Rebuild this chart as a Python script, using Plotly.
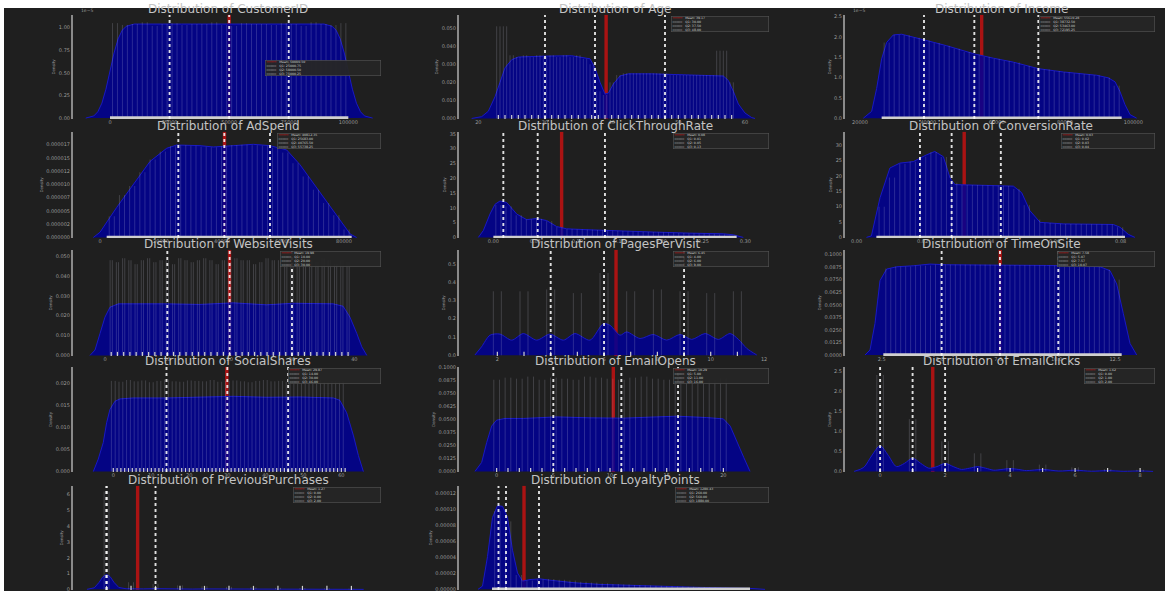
import plotly.graph_objects as go

W, H = 1165, 593

# ===================== DATA =====================
TITLES = ["CustomerID", "Age", "Income", "AdSpend", "ClickThroughRate", "ConversionRate",
          "WebsiteVisits", "PagesPerVisit", "TimeOnSite", "SocialShares", "EmailOpens",
          "EmailClicks", "PreviousPurchases", "LoyaltyPoints"]

# ---- CustomerID ----
CID_KDE_X = [-10200, -6800, -5100, -3400, -1700, 0, 1700, 3400, 5100, 6800, 10200, 30000, 50000, 70000,
             89800, 93200, 94900, 96600, 98300, 100000, 101700, 103400, 105100, 106800, 110200]
CID_KDE_Y = [0.0, 2.4e-7, 7.0e-7, 1.65e-6, 3.2e-6, 5.2e-6, 7.2e-6, 8.75e-6, 9.7e-6, 1.015e-5, 1.04e-5,
             1.04e-5, 1.039e-5, 1.041e-5, 1.04e-5, 1.015e-5, 9.7e-6, 8.75e-6, 7.2e-6, 5.2e-6, 3.2e-6,
             1.65e-6, 7.0e-7, 2.4e-7, 0.0]
CID_HIST_START, CID_HIST_STEP = 2083, 4167
CID_HIST_Y = [1.05e-5, 1.03e-5, 1.04e-5, 1.06e-5, 1.02e-5, 1.04e-5, 1.05e-5, 1.03e-5, 1.04e-5, 1.04e-5,
              1.06e-5, 1.03e-5, 1.02e-5, 1.05e-5, 1.04e-5, 1.04e-5, 1.03e-5, 1.05e-5, 1.04e-5, 1.02e-5,
              1.06e-5, 1.04e-5, 1.03e-5, 1.05e-5]
CID_RUG = [0, 100000]
CID_STATS = [50000.50, 25000.75, 50000.50, 75000.25]   # mean, Q1, Q2, Q3
CID_XTICKS = [0, 25000, 50000, 75000, 100000]
CID_XTEXT = ["0", "25000", "50000", "75000", "100000"]
CID_YTICKS = [0, 2.5e-6, 5e-6, 7.5e-6, 1e-5]
CID_YTEXT = ["0.00", "0.25", "0.50", "0.75", "1.00"]

# ---- Age ----
AGE_KDE_X = [19.0, 20.5, 21.5, 22.5, 23.25, 24.0, 25.0, 26.0, 30.0, 34.0, 36.75, 37.5, 38.25, 39.0, 39.5,
             40.25, 41.25, 42.5, 46.0, 50.0, 54.0, 56.75, 57.5, 58.25, 59.0, 60.0, 61.0, 61.5]
AGE_KDE_Y = [0.0, 0.001, 0.004, 0.012, 0.020, 0.028, 0.0325, 0.034, 0.0345, 0.0347, 0.033, 0.028, 0.020,
             0.0135, 0.014, 0.019, 0.0235, 0.0247, 0.0247, 0.0244, 0.024, 0.0235, 0.021, 0.015, 0.008,
             0.003, 0.0005, 0.0]
AGE_HIST_START, AGE_HIST_STEP = 23, 1
AGE_HIST_Y = [0.051, 0.051, 0.035, 0.034, 0.035, 0.034, 0.035, 0.034, 0.035, 0.034, 0.035, 0.034, 0.035,
              0.033, 0.030, 0.015, 0.013, 0.020, 0.024, 0.025, 0.025, 0.025, 0.025, 0.025, 0.025, 0.025,
              0.024, 0.024, 0.024, 0.024, 0.024, 0.024, 0.024, 0.0375, 0.0375, 0.020]
AGE_RUG = [23, 24, 25, 26, 27, 28, 29, 30, 31, 32, 33, 34, 35, 36, 37, 38, 39, 40, 41, 42, 43, 44, 45, 46,
           47, 48, 49, 50, 51, 52, 53, 54, 55, 56, 57, 58]
AGE_STATS = [39.17, 30.00, 37.50, 48.00]
AGE_XTICKS = [20, 30, 40, 50, 60]
AGE_XTEXT = ["20", "30", "40", "50", "60"]
AGE_YTICKS = [0, 0.01, 0.02, 0.03, 0.04, 0.05]
AGE_YTEXT = ["0.000", "0.010", "0.020", "0.030", "0.040", "0.050"]

# ---- Income ----
INC_KDE_X = [20976, 23415, 24878, 26341, 27805, 29756, 32195, 35610, 38732, 45366, 53463, 59024, 64878,
             72195, 79512, 89268, 92683, 94634, 96098, 97561, 99024, 100976]
INC_KDE_Y = [0.0, 1.69e-6, 7.34e-6, 1.46e-5, 1.863e-5, 2.048e-5, 2.065e-5, 2.0e-5, 1.927e-5, 1.782e-5,
             1.581e-5, 1.476e-5, 1.379e-5, 1.218e-5, 1.137e-5, 1.056e-5, 9.92e-6, 8.95e-6, 6.53e-6,
             3.31e-6, 8.9e-7, 0.0]
INC_HIST_START, INC_HIST_STEP = 27805, 2927
INC_HIST_Y = [1.86e-5, 2.05e-5, 2.04e-5, 1.98e-5, 1.91e-5, 1.85e-5, 1.78e-5, 1.71e-5, 1.63e-5, 1.57e-5,
              1.51e-5, 1.46e-5, 1.41e-5, 1.37e-5, 1.29e-5, 1.23e-5, 1.2e-5, 1.16e-5, 1.13e-5, 1.1e-5,
              1.08e-5, 1.056e-5, 1.0e-5, 0.8e-5]
INC_RUG = [26341, 96585]
INC_STATS = [55610.28, 38732.50, 53463.00, 72195.25]
INC_XTICKS = [20000, 40000, 60000, 80000, 100000]
INC_XTEXT = ["20000", "40000", "60000", "80000", "100000"]
INC_YTICKS = [0, 0.5e-5, 1e-5, 1.5e-5, 2e-5, 2.5e-5]
INC_YTEXT = ["0.0", "0.5", "1.0", "1.5", "2.0", "2.5"]

# ---- AdSpend ----
ADS_KDE_X = [-2186, 0, 5464, 10929, 16393, 21858, 25137, 32787, 37158, 43716, 50273, 55738, 61202, 65574,
             71038, 76503, 81967, 84153]
ADS_KDE_Y = [0.0, 9.9e-7, 5.65e-6, 9.99e-6, 1.433e-5, 1.681e-5, 1.743e-5, 1.731e-5, 1.706e-5, 1.731e-5,
             1.756e-5, 1.731e-5, 1.650e-5, 1.371e-5, 9.37e-6, 5.03e-6, 6.8e-7, 0.0]
ADS_HIST_START, ADS_HIST_STEP = 3860, 3347
ADS_HIST_Y = [0.4e-5, 0.8e-5, 0.97e-5, 1.23e-5, 1.47e-5, 1.62e-5, 1.72e-5, 1.74e-5, 1.73e-5, 1.71e-5,
              1.70e-5, 1.72e-5, 1.74e-5, 1.75e-5, 1.74e-5, 1.73e-5, 1.69e-5, 1.60e-5, 1.40e-5, 1.15e-5,
              0.9e-5, 0.65e-5, 0.42e-5, 0.15e-5]
ADS_RUG = [2186, 82514]
ADS_STATS = [40812.35, 25683.00, 40765.50, 55738.25]
ADS_XTICKS = [0, 20000, 40000, 60000, 80000]
ADS_XTEXT = ["0", "20000", "40000", "60000", "80000"]
ADS_YTICKS = [0, 2.5e-6, 5e-6, 7.5e-6, 1e-5, 1.25e-5, 1.5e-5, 1.75e-5]
ADS_YTEXT = ["0.000000", "0.000002", "0.000005", "0.000007", "0.000010", "0.000012", "0.000015",
             "0.000017"]

# ---- ClickThroughRate ----
CTR_KDE_X = [-0.0179, -0.0119, -0.0040, 0.0020, 0.0079, 0.0159, 0.0278, 0.0397, 0.0516, 0.0635, 0.0754,
             0.0873, 0.1151, 0.1548, 0.1944, 0.2341, 0.2738, 0.2857, 0.2917, 0.2976]
CTR_KDE_Y = [0.0, 2.33, 7.9, 11.2, 12.3, 11.8, 7.9, 6.0, 6.4, 5.7, 3.67, 2.9, 2.56, 2.1, 1.78, 1.44, 1.22,
             0.89, 0.44, 0.0]
CTR_HIST_START, CTR_HIST_STEP = 0.006, 0.0121
CTR_HIST_Y = [11.0, 10.5, 7.5, 6.1, 6.3, 5.5, 3.5, 2.8, 2.7, 2.6, 2.5, 2.3, 2.2, 2.0, 1.9, 1.8, 1.7, 1.6,
              1.5, 1.4, 1.3, 1.2, 1.0, 0.6]
CTR_RUG = [0.0, 0.2897]
CTR_STATS = [0.0813, 0.0119, 0.0528, 0.1329]
CTR_XTICKS = [0, 0.05, 0.10, 0.15, 0.20, 0.25, 0.30]
CTR_XTEXT = ["0.00", "0.05", "0.10", "0.15", "0.20", "0.25", "0.30"]
CTR_YTICKS = [0, 5, 10, 15, 20, 25, 30, 35]
CTR_YTEXT = ["0", "5", "10", "15", "20", "25", "30", "35"]

# ---- ConversionRate ----
CVR_KDE_X = [0.0030, 0.0045, 0.0071, 0.0101, 0.0131, 0.0172, 0.0212, 0.0237, 0.0263, 0.0283, 0.0298,
             0.0374, 0.0475, 0.0500, 0.0525, 0.0556, 0.0626, 0.0778, 0.0798, 0.0823, 0.0843]
CVR_KDE_Y = [0.0, 0.5, 12.9, 22.6, 24.2, 24.7, 26.9, 28.0, 26.3, 19.4, 17.2, 17.0, 16.7, 14.6, 8.7, 4.9,
             4.4, 4.2, 3.3, 1.0, 0.0]
CVR_HIST_START, CVR_HIST_STEP = 0.0076, 0.00314
CVR_HIST_Y = [10.0, 19.5, 24.0, 24.7, 26.3, 27.8, 26.2, 17.8, 17.1, 17.05, 17.0, 16.9, 16.8, 15.8, 10.5,
              5.8, 4.7, 4.45, 4.37, 4.33, 4.29, 4.25, 4.2, 3.3]
CVR_RUG = [0.006, 0.0813]
CVR_STATS = [0.0326, 0.0192, 0.0288, 0.0437]
CVR_XTICKS = [0, 0.02, 0.04, 0.06, 0.08]
CVR_XTEXT = ["0.00", "0.02", "0.04", "0.06", "0.08"]
CVR_YTICKS = [0, 5, 10, 15, 20, 25, 30]
CVR_YTEXT = ["0", "5", "10", "15", "20", "25", "30"]

# ---- WebsiteVisits ----
WV_KDE_X = [-2.41, -1.6, -0.8, 0, 0.8, 2.14, 9.9, 15.2, 20.6, 25.9, 30.2, 36.6, 38.2, 39.3, 40.4, 41.2,
            42.0]
WV_KDE_Y = [0.0, 0.0027, 0.011, 0.0193, 0.0243, 0.026, 0.026, 0.0257, 0.0265, 0.0255, 0.0263, 0.026,
            0.0248, 0.0193, 0.011, 0.0043, 0.0]
WV_HIST_START, WV_HIST_STEP = 1, 1
WV_HIST_Y = [0.048, 0.047, 0.049, 0.048, 0.046, 0.048, 0.049, 0.047, 0.048, 0.048, 0.046, 0.049, 0.048,
             0.047, 0.048, 0.049, 0.048, 0.046, 0.048, 0.047, 0.049, 0.048, 0.048, 0.046, 0.047, 0.049,
             0.048, 0.048, 0.047, 0.049, 0.046, 0.048, 0.048, 0.047, 0.049, 0.048, 0.046, 0.048, 0.047]
WV_RUG = [1, 2, 3, 4, 5, 6, 7, 8, 9, 10, 11, 12, 13, 14, 15, 16, 17, 18, 19, 20, 21, 22, 23, 24, 25, 26,
          27, 28, 29, 30, 31, 32, 33, 34, 35, 36, 37, 38, 39]
WV_STATS = [19.98, 10.00, 20.00, 30.00]
WV_XTICKS = [0, 10, 20, 30, 40]
WV_XTEXT = ["0", "10", "20", "30", "40"]
WV_YTICKS = [0, 0.01, 0.02, 0.03, 0.04, 0.05]
WV_YTEXT = ["0.000", "0.010", "0.020", "0.030", "0.040", "0.050"]

# ---- PagesPerVisit ----
PPV_KDE_X = [1.16, 1.41, 1.725, 2.10, 2.54, 2.975, 3.475, 3.975, 4.475, 4.91, 5.475, 5.975, 6.225, 6.6,
             6.85, 7.35, 7.85, 8.35, 8.85, 9.29, 9.79, 10.29, 10.725, 11.04, 11.35, 11.725]
PPV_KDE_Y = [0.002, 0.047, 0.110, 0.116, 0.083, 0.119, 0.083, 0.116, 0.083, 0.119, 0.083, 0.173, 0.164,
             0.110, 0.128, 0.092, 0.114, 0.083, 0.114, 0.087, 0.119, 0.087, 0.119, 0.087, 0.038, 0.002]
PPV_HIST_START, PPV_HIST_STEP = 2, 1
PPV_HIST_Y = [0.35, 0.35, 0.36, 0.34, 0.45, 0.35, 0.36, 0.35, 0.34, 0.35]
PPV_RUG = [2, 3, 4, 5, 6, 7, 8, 9, 10, 11]
PPV_STATS = [6.45, 4.00, 6.00, 9.00]
PPV_XTICKS = [2, 4, 6, 8, 10, 12]
PPV_XTEXT = ["2", "4", "6", "8", "10", "12"]
PPV_YTICKS = [0, 0.1, 0.2, 0.3, 0.4, 0.5]
PPV_YTEXT = ["0.0", "0.1", "0.2", "0.3", "0.4", "0.5"]

# ---- TimeOnSite ----
TOS_KDE_X = [1.786, 2.0, 2.214, 2.429, 2.714, 3.143, 3.857, 4.571, 5.286, 6.714, 8.143, 9.571, 11.0,
             11.857, 12.286, 12.571, 12.857, 13.143, 13.429]
TOS_KDE_Y = [0.0, 0.0049, 0.0313, 0.074, 0.0855, 0.0878, 0.0888, 0.0905, 0.0898, 0.0898, 0.0895, 0.0891,
             0.0885, 0.0878, 0.0839, 0.0707, 0.0411, 0.0115, 0.0]
TOS_HIST_START, TOS_HIST_STEP = 2.784, 0.4256
TOS_HIST_Y = [0.086, 0.088, 0.088, 0.089, 0.089, 0.090, 0.090, 0.090, 0.090, 0.090, 0.090, 0.0898, 0.0897,
              0.0895, 0.0894, 0.0893, 0.0891, 0.0890, 0.0888, 0.0886, 0.0883, 0.0880, 0.085, 0.075]
TOS_RUG = [2.571, 12.786]
TOS_STATS = [7.58, 5.07, 7.57, 10.07]
TOS_XTICKS = [2.5, 5.0, 7.5, 10.0, 12.5]
TOS_XTEXT = ["2.5", "5.0", "7.5", "10.0", "12.5"]
TOS_YTICKS = [0, 0.0125, 0.025, 0.0375, 0.05, 0.0625, 0.075, 0.0875, 0.1]
TOS_YTEXT = ["0.0000", "0.0125", "0.0250", "0.0375", "0.0500", "0.0625", "0.0750", "0.0875", "0.1000"]

# ---- SocialShares ----
SS_KDE_X = [-5.26, -3.95, -2.63, -1.75, -0.88, 0.44, 1.75, 5.26, 14.0, 22.8, 31.6, 40.4, 49.1, 57.9, 59.6,
            61.4, 63.2, 64.5, 65.8]
SS_KDE_Y = [0.0, 0.00283, 0.00657, 0.01104, 0.01403, 0.01589, 0.01642, 0.01664, 0.01664, 0.01679, 0.01701,
            0.01679, 0.01686, 0.01664, 0.01611, 0.01328, 0.00806, 0.00358, 0.0]
SS_HIST_START, SS_HIST_STEP = 0, 2
SS_HIST_Y = [0.0205, 0.0203, 0.0207, 0.0204, 0.0206, 0.0202, 0.0205, 0.0208, 0.0204, 0.0203, 0.0206,
             0.0205, 0.0204, 0.0207, 0.0203, 0.0205, 0.0206, 0.0204, 0.0202, 0.0205, 0.0207, 0.0204,
             0.0205, 0.0203, 0.0206, 0.0205, 0.0204, 0.0207, 0.0203, 0.0205, 0.0204]
SS_RUG = [0, 1, 2, 3, 4, 5, 6, 7, 8, 9, 10, 11, 12, 13, 14, 15, 16, 17, 18, 19, 20, 21, 22, 23, 24, 25, 26,
          27, 28, 29, 30, 31, 32, 33, 34, 35, 36, 37, 38, 39, 40, 41, 42, 43, 44, 45, 46, 47, 48, 49, 50,
          51, 52, 53, 54, 55, 56, 57, 58, 59, 60, 61]
SS_STATS = [29.87, 14.00, 30.00, 46.00]
SS_XTICKS = [0, 10, 20, 30, 40, 50, 60]
SS_XTEXT = ["0", "10", "20", "30", "40", "50", "60"]
SS_YTICKS = [0, 0.005, 0.01, 0.015, 0.02]
SS_YTEXT = ["0.000", "0.005", "0.010", "0.015", "0.020"]

# ---- EmailOpens ----
EO_KDE_X = [-1.91, -1.32, -0.88, -0.44, 0, 0.74, 2.35, 5.29, 8.24, 11.18, 14.1, 15.9, 18.5, 20.0, 20.6,
            21.2, 21.8, 22.35]
EO_KDE_Y = [0.0, 0.0086, 0.0276, 0.0435, 0.0492, 0.0508, 0.0508, 0.0523, 0.0514, 0.0511, 0.0523, 0.053,
            0.0517, 0.0504, 0.0435, 0.0292, 0.0133, 0.0]
EO_HIST_START, EO_HIST_STEP = 0, 1
EO_HIST_Y = [0.088, 0.090, 0.089, 0.091, 0.088, 0.090, 0.089, 0.088, 0.091, 0.090, 0.089, 0.088, 0.090,
             0.091, 0.089, 0.088, 0.090, 0.089, 0.091, 0.088, 0.089]
EO_RUG = [0, 1, 2, 3, 4, 5, 6, 7, 8, 9, 10, 11, 12, 13, 14, 15, 16, 17, 18, 19, 20]
EO_STATS = [10.29, 5.00, 11.00, 16.00]
EO_XTICKS = [0, 5, 10, 15, 20]
EO_XTEXT = ["0", "5", "10", "15", "20"]
EO_YTICKS = [0, 0.0125, 0.025, 0.0375, 0.05, 0.0625, 0.075, 0.0875, 0.1]
EO_YTEXT = ["0.0000", "0.0125", "0.0250", "0.0375", "0.0500", "0.0625", "0.0750", "0.0875", "0.1000"]

# ---- EmailClicks ----
EC_KDE_X = [-0.8, -0.5, -0.25, 0, 0.25, 0.5, 0.75, 1, 1.25, 1.5, 1.75, 2, 2.25, 2.5, 2.75, 3, 3.25, 3.5,
            3.75, 4, 4.25, 4.5, 5, 5.5, 6, 6.5, 7, 7.5, 8, 8.4]
EC_KDE_Y = [0.0, 0.1, 0.4, 0.64, 0.4, 0.12, 0.2, 0.33, 0.2, 0.08, 0.12, 0.2, 0.12, 0.05, 0.08, 0.12, 0.08,
            0.03, 0.05, 0.07, 0.05, 0.02, 0.05, 0.01, 0.03, 0.005, 0.02, 0.003, 0.012, 0.0]
EC_HIST_START, EC_HIST_STEP = 0, 1
EC_HIST_Y = [2.4, 1.3, 0.75, 0.45, 0.28, 0.17, 0.1, 0.06, 0.04]
EC_RUG = [0, 1, 2, 3, 4, 5, 6, 7, 8]
EC_STATS = [1.62, 0.00, 1.00, 2.00]
EC_XTICKS = [0, 2, 4, 6, 8]
EC_XTEXT = ["0", "2", "4", "6", "8"]
EC_YTICKS = [0, 0.5, 1.0, 1.5, 2.0, 2.5]
EC_YTEXT = ["0.0", "0.5", "1.0", "1.5", "2.0", "2.5"]

# ---- PreviousPurchases ----
PP_KDE_X = [-0.8, -0.5, -0.3, -0.15, 0, 0.15, 0.3, 0.5, 0.8, 1, 1.5, 2, 2.5, 3, 3.5, 4, 5, 6, 7, 8, 9, 10,
            10.5]
PP_KDE_Y = [0.0, 0.1, 0.45, 0.8, 0.95, 0.8, 0.45, 0.12, 0.04, 0.05, 0.03, 0.045, 0.025, 0.035, 0.02, 0.03,
            0.025, 0.02, 0.02, 0.015, 0.015, 0.012, 0.0]
PP_HIST_START, PP_HIST_STEP = 0, 1
PP_HIST_Y = [6.2, 0.45, 0.35, 0.25, 0.2, 0.16, 0.13, 0.1, 0.08, 0.06, 0.05]
PP_RUG = [0, 1, 2, 3, 4, 5, 6, 7, 8, 9, 10]
PP_STATS = [1.27, 0.00, 0.00, 2.00]
PP_XTICKS = [0, 2, 4, 6, 8, 10]
PP_XTEXT = ["0", "2", "4", "6", "8", "10"]
PP_YTICKS = [0, 1, 2, 3, 4, 5, 6]
PP_YTEXT = ["0", "1", "2", "3", "4", "5", "6"]

# ---- LoyaltyPoints ----
LP_KDE_X = [-560, -380, -180, 20, 220, 420, 620, 820, 1020, 1220, 1520, 1920, 2320, 3320, 4320, 6320, 8320,
            10320, 10920]
LP_KDE_Y = [0.0, 0.41e-5, 4.1e-5, 9.0e-5, 1.047e-4, 1.039e-4, 9.0e-5, 4.9e-5, 2.05e-5, 1.03e-5, 1.23e-5,
            1.31e-5, 1.15e-5, 0.82e-5, 0.62e-5, 0.41e-5, 0.25e-5, 0.12e-5, 0.0]
LP_HIST_START, LP_HIST_STEP = 215, 430
LP_HIST_Y = [9.8e-5, 8.5e-5, 1.8e-5, 1.1e-5, 1.25e-5, 1.3e-5, 1.2e-5, 1.1e-5, 0.95e-5, 0.85e-5, 0.75e-5,
             0.68e-5, 0.62e-5, 0.55e-5, 0.5e-5, 0.45e-5, 0.4e-5, 0.36e-5, 0.32e-5, 0.28e-5, 0.24e-5,
             0.2e-5, 0.16e-5, 0.13e-5]
LP_RUG = [0, 10320]
LP_STATS = [1280.43, 260.00, 560.00, 1880.00]
LP_XTICKS = [0, 2000, 4000, 6000, 8000, 10000]
LP_XTEXT = ["0", "2000", "4000", "6000", "8000", "10000"]
LP_YTICKS = [0, 2e-5, 4e-5, 6e-5, 8e-5, 1e-4, 1.2e-4]
LP_YTEXT = ["0.00000", "0.00002", "0.00004", "0.00006", "0.00008", "0.00010", "0.00012"]

# table the loop needs (built from the named lists above)
PLOTS = [
    (CID_KDE_X, CID_KDE_Y, CID_HIST_START, CID_HIST_STEP, CID_HIST_Y, CID_RUG, CID_STATS, CID_XTICKS, CID_XTEXT, CID_YTICKS, CID_YTEXT),
    (AGE_KDE_X, AGE_KDE_Y, AGE_HIST_START, AGE_HIST_STEP, AGE_HIST_Y, AGE_RUG, AGE_STATS, AGE_XTICKS, AGE_XTEXT, AGE_YTICKS, AGE_YTEXT),
    (INC_KDE_X, INC_KDE_Y, INC_HIST_START, INC_HIST_STEP, INC_HIST_Y, INC_RUG, INC_STATS, INC_XTICKS, INC_XTEXT, INC_YTICKS, INC_YTEXT),
    (ADS_KDE_X, ADS_KDE_Y, ADS_HIST_START, ADS_HIST_STEP, ADS_HIST_Y, ADS_RUG, ADS_STATS, ADS_XTICKS, ADS_XTEXT, ADS_YTICKS, ADS_YTEXT),
    (CTR_KDE_X, CTR_KDE_Y, CTR_HIST_START, CTR_HIST_STEP, CTR_HIST_Y, CTR_RUG, CTR_STATS, CTR_XTICKS, CTR_XTEXT, CTR_YTICKS, CTR_YTEXT),
    (CVR_KDE_X, CVR_KDE_Y, CVR_HIST_START, CVR_HIST_STEP, CVR_HIST_Y, CVR_RUG, CVR_STATS, CVR_XTICKS, CVR_XTEXT, CVR_YTICKS, CVR_YTEXT),
    (WV_KDE_X, WV_KDE_Y, WV_HIST_START, WV_HIST_STEP, WV_HIST_Y, WV_RUG, WV_STATS, WV_XTICKS, WV_XTEXT, WV_YTICKS, WV_YTEXT),
    (PPV_KDE_X, PPV_KDE_Y, PPV_HIST_START, PPV_HIST_STEP, PPV_HIST_Y, PPV_RUG, PPV_STATS, PPV_XTICKS, PPV_XTEXT, PPV_YTICKS, PPV_YTEXT),
    (TOS_KDE_X, TOS_KDE_Y, TOS_HIST_START, TOS_HIST_STEP, TOS_HIST_Y, TOS_RUG, TOS_STATS, TOS_XTICKS, TOS_XTEXT, TOS_YTICKS, TOS_YTEXT),
    (SS_KDE_X, SS_KDE_Y, SS_HIST_START, SS_HIST_STEP, SS_HIST_Y, SS_RUG, SS_STATS, SS_XTICKS, SS_XTEXT, SS_YTICKS, SS_YTEXT),
    (EO_KDE_X, EO_KDE_Y, EO_HIST_START, EO_HIST_STEP, EO_HIST_Y, EO_RUG, EO_STATS, EO_XTICKS, EO_XTEXT, EO_YTICKS, EO_YTEXT),
    (EC_KDE_X, EC_KDE_Y, EC_HIST_START, EC_HIST_STEP, EC_HIST_Y, EC_RUG, EC_STATS, EC_XTICKS, EC_XTEXT, EC_YTICKS, EC_YTEXT),
    (PP_KDE_X, PP_KDE_Y, PP_HIST_START, PP_HIST_STEP, PP_HIST_Y, PP_RUG, PP_STATS, PP_XTICKS, PP_XTEXT, PP_YTICKS, PP_YTEXT),
    (LP_KDE_X, LP_KDE_Y, LP_HIST_START, LP_HIST_STEP, LP_HIST_Y, LP_RUG, LP_STATS, LP_XTICKS, LP_XTEXT, LP_YTICKS, LP_YTEXT),
]
OFFSET_TEXT = {0: "1e\u22125", 2: "1e\u22125"}

# ===================== LAYOUT / STYLE =====================
COL_PX = [(73, 383), (459, 771), (845, 1157)]
ROW_PX = [(12, 117), (130, 237), (249, 356), (367, 473), (487, 592)]
X_RANGES = [[-15524, 114545], [17.1, 63.9], [15610, 106927], [-8852, 92787], [-0.0409, 0.3306],
            [-0.0035, 0.0910], [-5.13, 44.6], [0.5625, 12.26], [0.929, 14.3], [-10.6, 70.96],
            [-3.32, 24.2], [-1.08, 8.52], [-1.37, 11.29], [-1320, 11160]]
Y_RANGES = [[-0.01e-5, 1.141e-5], [-0.0003, 0.0573], [-0.02e-5, 2.54e-5], [-0.01e-5, 1.99e-5],
            [-0.2, 35.67], [-0.2, 34.37], [-0.0003, 0.0532], [-0.0036, 0.576], [-0.001, 0.1046],
            [-0.0001, 0.02366], [-0.0006, 0.1003], [-0.015, 2.6], [-0.04, 6.56], [-0.08e-5, 1.294e-4]]
BAR_FRAC = [0.5, 0.5, 0.5, 0.5, 0.5, 0.5, 0.35, 0.3, 0.5, 0.5, 0.5, 0.2, 0.2, 0.5]
DISCRETE = {1, 6, 7, 9, 10, 11, 12}
SPLINE = {7, 11}
LEGEND_Y = [0.57] + [0.985] * 13
LEGEND_W = [115, 97, 115, 103, 95, 93, 100, 95, 97, 92, 95, 70, 87, 93]

BG = "#1f1f1f"
FILL = "rgba(0,0,150,0.85)"
EDGE = "rgb(25,25,195)"
TICK_C = "#9a9a9a"
TITLE_C = "#c4c4c4"
FONT = "DejaVu Sans"

fig = go.Figure()
shapes = [dict(type="rect", xref="paper", yref="paper", x0=4 / W, x1=1, y0=0, y1=1 - 5 / H,
               fillcolor=BG, line=dict(width=0), layer="below")]
annotations = []
axes = {}

for i, (kx, ky, h0, hd, hy, rug, stats, xt, xtt, yt, ytt) in enumerate(PLOTS):
    n = i + 1
    r, c = divmod(i, 3)
    xa = "x" if n == 1 else f"x{n}"
    ya = "y" if n == 1 else f"y{n}"
    L, R = COL_PX[c]
    T, B = ROW_PX[r]
    xdom = [L / W, R / W]
    ydom = [1 - B / H, 1 - T / H]
    axes["xaxis" if n == 1 else f"xaxis{n}"] = dict(
        domain=xdom, anchor=ya, range=X_RANGES[i], tickvals=xt, ticktext=xtt,
        showticklabels=(r < 4), ticklabelstandoff=-1,
        showgrid=False, zeroline=False, showline=False, ticks="",
        tickfont=dict(size=5, color=TICK_C, family=FONT))
    axes["yaxis" if n == 1 else f"yaxis{n}"] = dict(
        domain=ydom, anchor=xa, range=Y_RANGES[i], tickvals=yt, ticktext=ytt,
        showgrid=False, zeroline=False, showline=True, linecolor="#8a8a8a", linewidth=2,
        ticks="", tickfont=dict(size=5, color=TICK_C, family=FONT),
        title=dict(text="Density", font=dict(size=4, color=TICK_C, family=FONT), standoff=3))

    mean, q1, q2, q3 = stats
    ydref = f"{ya} domain"
    # mean line sits beneath the density fill
    shapes.append(dict(type="line", xref=xa, yref=ydref, x0=mean, x1=mean, y0=0, y1=1, layer="below",
                       line=dict(color="rgba(185,18,18,0.9)", width=3.4)))

    # KDE area
    fig.add_trace(go.Scatter(
        x=kx, y=ky, xaxis=xa, yaxis=ya, mode="lines", fill="tozeroy", fillcolor=FILL,
        line=dict(color=EDGE, width=1, shape="spline" if i in SPLINE else "linear", smoothing=0.8),
        hoverinfo="skip", showlegend=False))

    # histogram bar edges (vertical strokes)
    bx, by = [], []
    half = hd * BAR_FRAC[i] / 2
    for k, h in enumerate(hy):
        cx = h0 + k * hd
        bx += [cx - half, cx - half, None, cx + half, cx + half, None]
        by += [0, h, None, 0, h, None]
    fig.add_trace(go.Scatter(
        x=bx, y=by, xaxis=xa, yaxis=ya, mode="lines",
        line=dict(color="rgba(215,215,235,0.24)", width=0.8),
        hoverinfo="skip", showlegend=False))

    # rug
    if i in DISCRETE:
        fig.add_trace(go.Scatter(
            x=rug, y=[0] * len(rug), xaxis=xa, yaxis=ya, mode="markers",
            marker=dict(symbol="line-ns", size=5, line=dict(width=1.2, color="#d2d2d2")),
            hoverinfo="skip", showlegend=False))
    else:
        fig.add_trace(go.Scatter(
            x=rug, y=[0, 0], xaxis=xa, yaxis=ya, mode="lines",
            line=dict(color="#cfcfcf", width=3.5), hoverinfo="skip", showlegend=False))

    # quartile lines above everything
    for q in (q1, q2, q3):
        shapes.append(dict(type="line", xref=xa, yref=ydref, x0=q, x1=q, y0=0, y1=1,
                           line=dict(color="rgba(245,245,245,0.9)", width=1.9, dash="dot")))

    # title
    annotations.append(dict(
        text=f"Distribution of {TITLES[i]}", xref="paper", yref="paper",
        x=(xdom[0] + xdom[1]) / 2, y=ydom[1], xanchor="center", yanchor="bottom", yshift=-3,
        showarrow=False, font=dict(size=12, color=TITLE_C, family=FONT)))

    # legend box
    leg = (f"<span style='color:#d01818'>━━━━━</span>   Mean: {mean:.2f}<br>"
           f"<span style='color:#dddddd'>╍╍╍╍╍</span>   Q1: {q1:.2f}<br>"
           f"<span style='color:#dddddd'>╍╍╍╍╍</span>   Q2: {q2:.2f}<br>"
           f"<span style='color:#dddddd'>╍╍╍╍╍</span>   Q3: {q3:.2f}")
    annotations.append(dict(
        text=leg, xref=f"{xa} domain", yref=f"{ya} domain", x=0.995, y=LEGEND_Y[i],
        xanchor="right", yanchor="top", align="left", showarrow=False,
        width=LEGEND_W[i], height=15, valign="middle",
        bgcolor="rgba(38,38,38,0.95)", bordercolor="#555555", borderwidth=0.6, borderpad=0,
        font=dict(size=3.2, color="#d0d0d0", family=FONT)))

    if i in OFFSET_TEXT:
        annotations.append(dict(
            text=OFFSET_TEXT[i], xref=f"{xa} domain", yref=f"{ya} domain", x=0.02, y=1.0,
            xanchor="left", yanchor="bottom", showarrow=False,
            font=dict(size=4.5, color=TICK_C, family=FONT)))

fig.update_layout(
    width=W, height=H, margin=dict(l=0, r=0, t=0, b=0),
    paper_bgcolor="white", plot_bgcolor="rgba(0,0,0,0)", showlegend=False,
    shapes=shapes, annotations=annotations, **axes)

fig.write_html("out.html", config={"displayModeBar": False},
               post_script="document.body.style.margin='0px';")
